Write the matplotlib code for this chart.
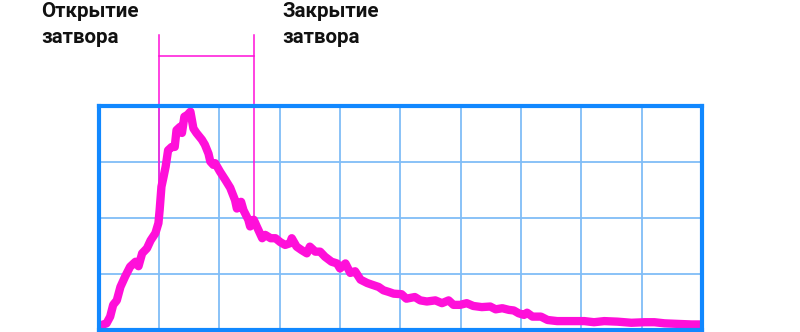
import numpy as np
import matplotlib
matplotlib.use("Agg")
import matplotlib.pyplot as plt

plt.rcParams.update({
    "font.family": ["Roboto", "DejaVu Sans"],
    "font.weight": "bold",
})

# Кривая: время (деления сетки) и уровень сигнала (деления сетки)
t = [0.05, 0.13, 0.19, 0.24, 0.30, 0.36, 0.44, 0.52, 0.61, 0.66,
     0.72, 0.80, 0.86, 0.94, 0.99, 1.01, 1.04, 1.07, 1.11, 1.15,
     1.21, 1.26, 1.29, 1.35, 1.38, 1.42, 1.47, 1.52, 1.57, 1.62,
     1.71, 1.76, 1.82, 1.85, 1.90, 1.93, 2.01, 2.10, 2.18, 2.26,
     2.29, 2.36, 2.40, 2.48, 2.51, 2.57, 2.62, 2.71, 2.76, 2.85,
     2.93, 3.01, 3.09, 3.17, 3.20, 3.28, 3.36, 3.45, 3.50, 3.59,
     3.67, 3.75, 3.86, 3.95, 4.00, 4.09, 4.17, 4.25, 4.34, 4.45,
     4.53, 4.64, 4.72, 4.81, 4.89, 5.02, 5.10, 5.24, 5.33, 5.44,
     5.58, 5.69, 5.80, 5.88, 5.99, 6.10, 6.21, 6.35, 6.49, 6.58,
     6.69, 6.80, 6.88, 6.96, 7.05, 7.10, 7.19, 7.33, 7.44, 7.60,
     7.83, 8.05, 8.21, 8.38, 8.60, 8.83, 9.05, 9.21, 9.38, 9.60,
     9.83, 9.99]
signal = [0.08, 0.11, 0.23, 0.44, 0.52, 0.76, 0.95, 1.12, 1.21, 1.13,
          1.36, 1.45, 1.59, 1.72, 1.90, 2.13, 2.55, 2.70, 2.91, 3.20,
          3.26, 3.26, 3.56, 3.62, 3.51, 3.80, 3.83, 3.89, 3.59, 3.51,
          3.39, 3.30, 3.14, 3.00, 2.94, 2.97, 2.82, 2.67, 2.53, 2.31,
          2.16, 2.28, 2.13, 1.96, 1.84, 1.96, 1.84, 1.63, 1.69, 1.63,
          1.63, 1.56, 1.51, 1.54, 1.63, 1.48, 1.42, 1.36, 1.48, 1.39,
          1.39, 1.30, 1.21, 1.18, 1.09, 1.18, 1.01, 1.04, 0.89, 0.83,
          0.80, 0.76, 0.70, 0.67, 0.64, 0.63, 0.55, 0.58, 0.52, 0.50,
          0.52, 0.47, 0.52, 0.44, 0.44, 0.47, 0.42, 0.40, 0.41, 0.36,
          0.38, 0.35, 0.34, 0.29, 0.26, 0.30, 0.23, 0.23, 0.17, 0.15,
          0.15, 0.15, 0.13, 0.15, 0.14, 0.12, 0.13, 0.13, 0.11, 0.10,
          0.09, 0.09]

t_open = 1.0
t_close = 2.57
bracket_y = 4.89
marker_top = 5.26
label_open = "Открытие\nзатвора"
label_close = "Закрытие\nзатвора"

PINK = "#ff0fd9"
BLUE = "#1188ff"
GRID = "#80bdf7"

W, H = 800, 332
fig = plt.figure(figsize=(W / 100, H / 100), dpi=100)
ax = fig.add_axes([98.7 / W, 1 - 329.5 / H, 603.3 / W, 224 / H])
ax.set_xlim(0, 10)
ax.set_ylim(0, 4)
ax.set_xticks(np.arange(1, 10))
ax.set_yticks([1, 2, 3])
ax.tick_params(length=0, labelbottom=False, labelleft=False)
ax.grid(True, color=GRID, lw=1.3)
for s in ax.spines.values():
    s.set_color(BLUE)
    s.set_linewidth(3.0)
    s.set_zorder(5)

ax.plot(t, signal, color=PINK, lw=6.0, solid_capstyle="round",
        solid_joinstyle="round", zorder=3)

# Метки открытия/закрытия затвора (выходят за пределы осей)
for tm in (t_open, t_close):
    y0 = np.interp(tm, t, signal)
    ax.plot([tm, tm], [y0, marker_top], color=PINK, lw=1.1,
            clip_on=False, zorder=2)
ax.plot([t_open, t_close], [bracket_y, bracket_y], color=PINK, lw=1.1,
        clip_on=False, zorder=2)

# подписи: каждая строка на своей базовой линии
for x_px, label in ((41, label_open), (282, label_close)):
    for i, line in enumerate(label.split("\n")):
        fig.text(x_px / W, 1 - (16.7 + 26 * i) / H, line, fontsize=14.8,
                 fontweight="bold", color="#111111", ha="left",
                 va="baseline")

fig.savefig("out.png", dpi=100)
